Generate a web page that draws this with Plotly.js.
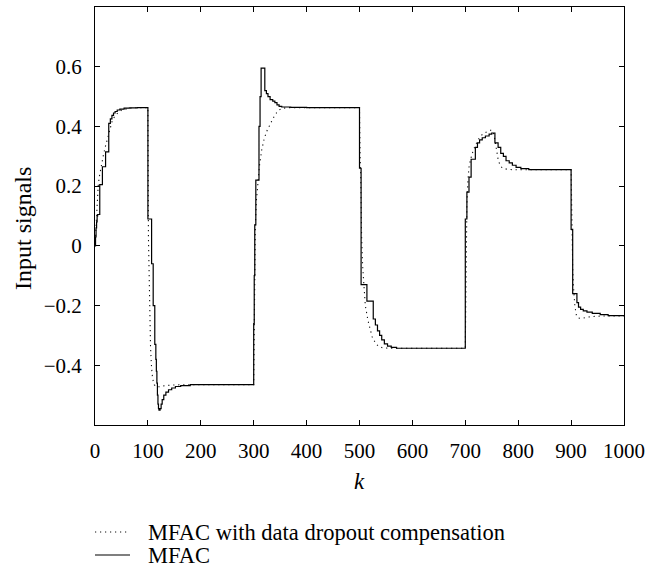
<!DOCTYPE html>
<html>
<head>
<meta charset="utf-8">
<script src="https://cdn.plot.ly/plotly-3.0.1.min.js"></script>
<style>html,body{margin:0;padding:0;background:#fff;}#chart{width:647px;height:571px;}</style>
</head>
<body>
<div id="chart"></div>
<script>
// MFAC (solid, sample-and-hold input: value holds until next k)
const mfacK = [0, 1, 2, 3, 4, 5, 9, 14, 20, 26, 29, 32, 35, 38, 42, 47, 55, 65, 80,
  100, 107, 110, 113, 115, 116, 117, 118, 119, 120, 121, 123, 125, 127, 130, 134, 139, 145, 152, 162, 180,
  300, 301, 302, 304, 310, 312, 314, 321, 324, 327, 331, 336, 340, 344, 348, 353, 370, 400,
  500, 503, 514, 526, 530, 534, 538, 542, 547, 553, 560, 570,
  700, 703, 707, 711, 719, 723, 727, 732, 738, 745, 750, 756, 762, 767, 772, 777, 783, 789, 796, 805, 820,
  900, 903, 911, 914, 918, 923, 930, 940, 955, 970, 1000];
const mfacU = [0, 0.03, 0.06, 0.08, 0.1, 0.105, 0.205, 0.265, 0.315, 0.41, 0.425, 0.437, 0.445, 0.45, 0.455, 0.458, 0.461, 0.462, 0.463,
  0.09, -0.06, -0.2, -0.33, -0.38, -0.42, -0.46, -0.5, -0.53, -0.545, -0.55, -0.545, -0.53, -0.515, -0.5, -0.49, -0.482, -0.476, -0.471, -0.468, -0.465,
  -0.26, -0.1, 0.07, 0.22, 0.4, 0.5, 0.595, 0.52, 0.51, 0.5, 0.49, 0.485, 0.48, 0.472, 0.467, 0.465, 0.464, 0.463,
  0.26, -0.13, -0.185, -0.245, -0.265, -0.285, -0.3, -0.315, -0.328, -0.336, -0.34, -0.343,
  0.09, 0.18, 0.23, 0.29, 0.33, 0.345, 0.355, 0.362, 0.368, 0.374, 0.378, 0.345, 0.33, 0.31, 0.3, 0.285, 0.278, 0.27, 0.263, 0.259, 0.255,
  0.055, -0.16, -0.19, -0.205, -0.213, -0.218, -0.222, -0.226, -0.23, -0.234, -0.235];

// MFAC with data dropout compensation (dotted)
const compK = [0, 2, 4, 6, 8, 10, 13, 16, 20, 24, 28, 32, 36, 40, 45, 50, 60, 70, 85, 100,
  101, 102, 103, 104, 105, 107, 109, 112, 116, 122, 130, 145, 170, 300,
  301, 302, 303, 305, 308, 311, 315, 320, 325, 330, 336, 342, 348, 355, 365, 500,
  501, 502, 503, 504, 506, 508, 511, 516, 520, 524, 530, 536, 545, 560, 700,
  701, 702, 703, 705, 707, 710, 715, 720, 726, 733, 740, 746, 750, 753, 756, 759, 762, 766, 771, 778, 790, 900,
  901, 902, 903, 905, 907, 910, 914, 920, 930, 945, 960, 1000];
const compU = [0, 0.08, 0.15, 0.2, 0.23, 0.25, 0.28, 0.305, 0.335, 0.365, 0.395, 0.415, 0.43, 0.44, 0.448, 0.454, 0.459, 0.462, 0.463, 0.463,
  0.03, -0.1, -0.2, -0.28, -0.34, -0.41, -0.445, -0.465, -0.472, -0.472, -0.469, -0.466, -0.465, -0.465,
  -0.25, -0.05, 0.06, 0.15, 0.22, 0.27, 0.32, 0.36, 0.385, 0.405, 0.425, 0.443, 0.455, 0.461, 0.463, 0.463,
  0.3, 0.2, 0.1, 0.03, -0.07, -0.14, -0.2, -0.25, -0.28, -0.305, -0.325, -0.337, -0.342, -0.343, -0.343,
  -0.1, 0.05, 0.14, 0.22, 0.263, 0.29, 0.32, 0.34, 0.36, 0.375, 0.383, 0.387, 0.387, 0.38, 0.355, 0.32, 0.29, 0.268, 0.26, 0.257, 0.255, 0.255,
  0.1, 0.0, -0.07, -0.15, -0.2, -0.232, -0.242, -0.243, -0.239, -0.236, -0.235, -0.235];

const xTicks = [0, 100, 200, 300, 400, 500, 600, 700, 800, 900, 1000];
const yTicks = [-0.4, -0.2, 0, 0.2, 0.4, 0.6];
const yTickText = ['\u22120.4', '\u22120.2', '0', '0.2', '0.4', '0.6'];
const seriesNames = ['MFAC with data dropout compensation', 'MFAC'];

const FONT = '"Liberation Serif", "Times New Roman", serif';

const traces = [
  {x: compK, y: compU, type: 'scatter', mode: 'lines', name: seriesNames[0],
   line: {color: '#111', width: 1.1, dash: '1.2px,3.8px'}},
  {x: mfacK, y: mfacU, type: 'scatter', mode: 'lines', name: seriesNames[1],
   line: {color: '#000', width: 1.2, shape: 'hv'}}
];

const axisCommon = {
  showline: true, linecolor: '#000', linewidth: 1, mirror: 'ticks',
  ticks: 'inside', ticklen: 5, tickcolor: '#000', tickwidth: 1,
  showgrid: false, zeroline: false,
  tickfont: {family: FONT, size: 21, color: '#000'}
};

const px2x = p => (p - 95) / 529;
const px2y = p => (425 - p) / 418;

const layout = {
  width: 647, height: 571,
  margin: {l: 95, r: 23, t: 7, b: 146},
  paper_bgcolor: '#fff', plot_bgcolor: '#fff',
  font: {family: FONT, color: '#000'},
  showlegend: false,
  xaxis: Object.assign({}, axisCommon, {range: [0, 1000], tickvals: xTicks, ticklabelstandoff: 7}),
  yaxis: Object.assign({}, axisCommon, {range: [-0.6, 0.8], tickvals: yTicks, ticktext: yTickText, ticklabelstandoff: 8}),
  shapes: [
    {type: 'line', xref: 'paper', yref: 'paper', x0: px2x(95), x1: px2x(130), y0: px2y(532), y1: px2y(532),
     line: {color: '#111', width: 1.1, dash: '1.2px,3.8px'}},
    {type: 'line', xref: 'paper', yref: 'paper', x0: px2x(95), x1: px2x(130), y0: px2y(555), y1: px2y(555),
     line: {color: '#000', width: 1.2}}
  ],
  annotations: [
    {text: 'Input signals', xref: 'paper', yref: 'paper', x: px2x(23), y: px2y(229), textangle: -90,
     showarrow: false, xanchor: 'center', yanchor: 'middle', font: {family: FONT, size: 24, color: '#000'}},
    {text: '<i>k</i>', xref: 'paper', yref: 'paper', x: 0.5, y: px2y(481),
     showarrow: false, xanchor: 'center', yanchor: 'middle', font: {family: FONT, size: 23, color: '#000'}},
    {text: seriesNames[0], xref: 'paper', yref: 'paper', x: px2x(146), y: px2y(532),
     showarrow: false, xanchor: 'left', yanchor: 'middle', font: {family: FONT, size: 22.5, color: '#000'}},
    {text: seriesNames[1], xref: 'paper', yref: 'paper', x: px2x(146), y: px2y(555),
     showarrow: false, xanchor: 'left', yanchor: 'middle', font: {family: FONT, size: 22.5, color: '#000'}}
  ]
};

Plotly.newPlot('chart', traces, layout, {staticPlot: true, displayModeBar: false});
</script>
</body>
</html>
